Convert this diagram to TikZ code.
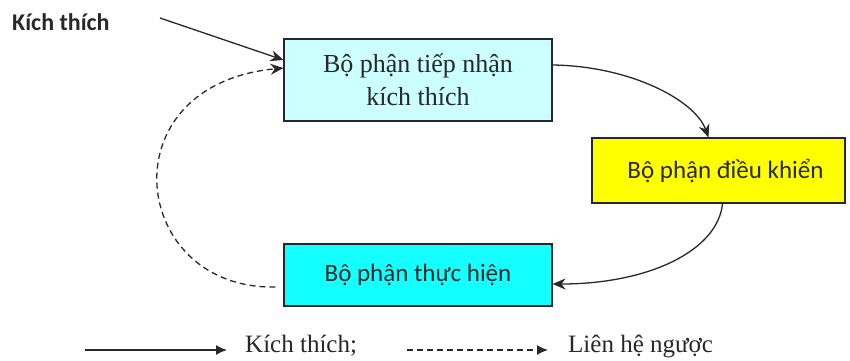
\documentclass[tikz,border=0pt]{standalone}
\usepackage{fontspec}
\setmainfont{Liberation Serif}
\newfontfamily\calibrifont{Carlito}
\usetikzlibrary{arrows.meta,calc}
\definecolor{lightcyan}{RGB}{204,255,255}
\definecolor{brightcyan}{RGB}{20,255,255}
\definecolor{brightyellow}{RGB}{255,255,0}
\definecolor{inkgray}{RGB}{40,40,40}
\begin{document}
\begin{tikzpicture}[x=1pt,y=-1pt,
  box/.style={draw=inkgray, line width=1.1pt, inner sep=0pt, text=inkgray},
  arr/.style={line width=1.3pt, draw=inkgray, -{Stealth[length=13pt,width=11pt]}},
  fbdash/.style={dash pattern=on 6pt off 4pt},
  legtip/.style={line width=1.4pt, draw=inkgray, -{Latex[length=11pt,width=10pt]}}
]
\useasboundingbox (0,0) rectangle (850,360);
\fill[white] (0,0) rectangle (850,360);

\node[font=\calibrifont\bfseries\fontsize{24}{28}\selectfont, anchor=base west, text=inkgray, inner sep=0pt] (kt) at (12,30) {Kích thích};

\node[box, fill=lightcyan, minimum width=268pt, minimum height=82pt, align=center,
      font=\fontsize{26}{33}\selectfont] (b1) at (418,80) {Bộ phận tiếp nhận\\kích thích};
\node[box, fill=brightyellow, minimum width=253pt, minimum height=65pt,
      font=\calibrifont\fontsize{25}{30}\selectfont] (b2) at (718.5,170.5) {\hspace{14pt}Bộ phận điều khiển};
\node[box, fill=brightcyan, minimum width=268pt, minimum height=62pt,
      font=\calibrifont\fontsize{25}{30}\selectfont] (b3) at (418,275) {Bộ phận thực hiện};

\coordinate (ks) at (160,18);
\draw[arr] (ks) -- ($(b1.west)+(0,-20)$);
\draw[arr, fbdash] ($(b3.west)+(-8,12)$) .. controls (130,290) and (105,85) .. ($(b1.west)+(0,-12)$);
\draw[arr] ($(b1.east)+(0,-15)$) .. controls (630,66) and (695,100) .. ($(b2.north)+(-10,0)$);
\draw[arr] ($(b2.south)+(4,0)$) .. controls (718,250) and (650,284) .. ($(b3.east)+(0,9)$);

\node[anchor=base west, inner sep=0pt, text=inkgray, font=\fontsize{25}{30}\selectfont] (lk) at (245,352) {Kích thích;};
\node[anchor=base west, inner sep=0pt, text=inkgray, font=\fontsize{25}{30}\selectfont] (ll) at (568,352) {Liên hệ ngược};
\coordinate (l1s) at (85,350);
\coordinate (l2s) at (407,350);
\draw[legtip] (l1s) -- ($(lk.base west)+(-18,-2)$);
\draw[legtip, fbdash] (l2s) -- ($(ll.base west)+(-20,-2)$);
\end{tikzpicture}
\end{document}
